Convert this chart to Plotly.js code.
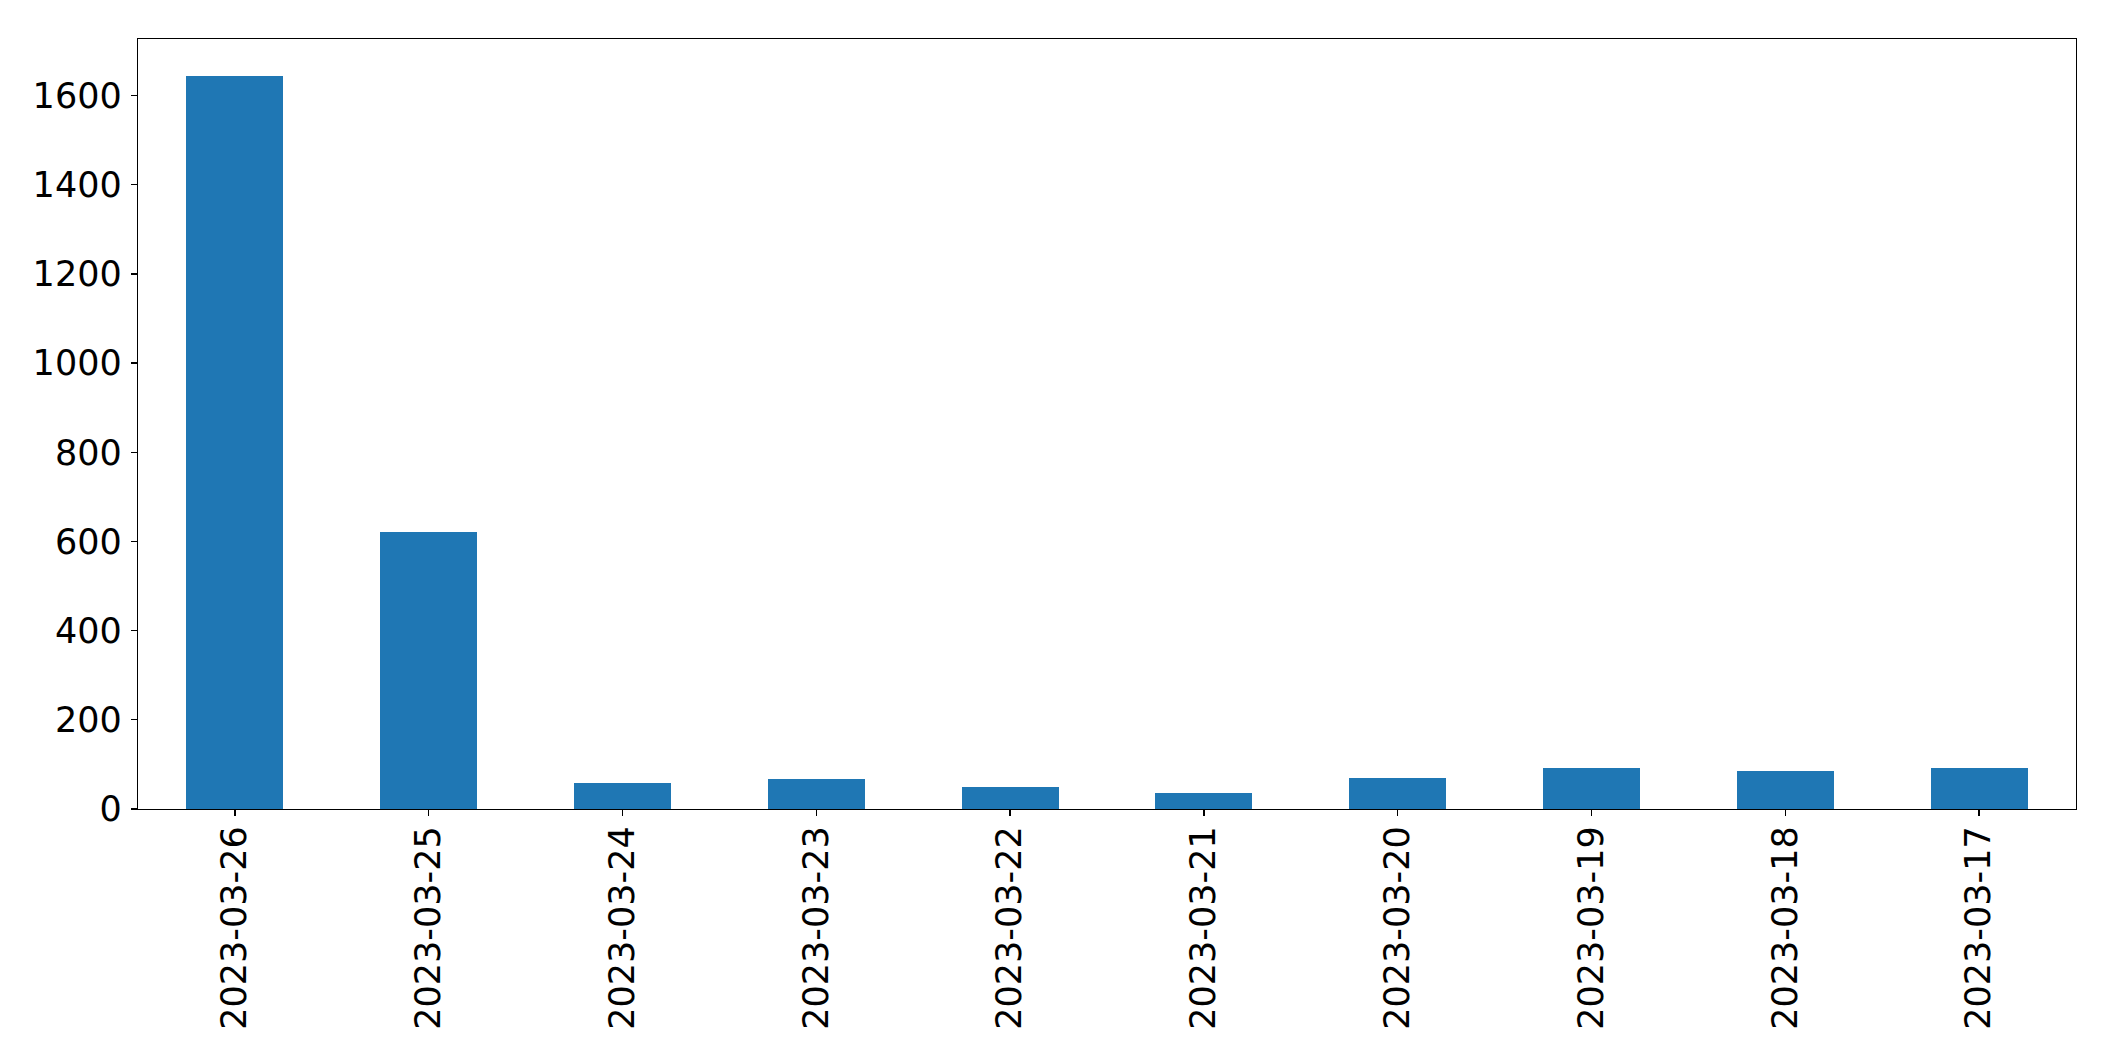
<!DOCTYPE html>
<html>
<head>
<meta charset="utf-8">
<script src="https://cdn.plot.ly/plotly-3.0.1.min.js"></script>
<style>html,body{margin:0;padding:0;background:#fff;}#chart{width:2115px;height:1061px;}</style>
</head>
<body>
<div id="chart"></div>
<script>
const dates = ["2023-03-26","2023-03-25","2023-03-24","2023-03-23","2023-03-22","2023-03-21","2023-03-20","2023-03-19","2023-03-18","2023-03-17"];
const counts = [1645, 622, 59, 68, 50, 37, 70, 93, 86, 93];
const yTicks = [0, 200, 400, 600, 800, 1000, 1200, 1400, 1600];

const trace = {
  type: "bar",
  x: dates,
  y: counts,
  width: 0.5,
  marker: {color: "#1f77b4", line: {width: 0}},
  hoverinfo: "x+y"
};

const axisFont = {family: "DejaVu Sans, sans-serif", size: 35, color: "#000"};

const layout = {
  width: 2115,
  height: 1061,
  margin: {l: 138, r: 39, t: 39, b: 252, pad: 0},
  paper_bgcolor: "#fff",
  plot_bgcolor: "#fff",
  showlegend: false,
  bargap: 0,
  xaxis: {
    type: "category",
    range: [-0.5, dates.length - 0.5],
    tickangle: -90,
    tickfont: axisFont,
    ticks: "outside",
    ticklen: 6,
    tickwidth: 1.3,
    tickcolor: "#000",
    showline: true,
    linecolor: "#000",
    linewidth: 1.3,
    mirror: true,
    showgrid: false,
    zeroline: false,
    ticklabelstandoff: -4
  },
  yaxis: {
    range: [0, 1727],
    tickvals: yTicks,
    ticktext: yTicks.map(String),
    tickfont: axisFont,
    ticks: "outside",
    ticklen: 6,
    tickwidth: 1.3,
    tickcolor: "#000",
    showline: true,
    linecolor: "#000",
    linewidth: 1.3,
    mirror: true,
    showgrid: false,
    zeroline: false,
    ticklabelstandoff: 2
  }
};

Plotly.newPlot("chart", [trace], layout, {staticPlot: true, displayModeBar: false});
</script>
</body>
</html>
